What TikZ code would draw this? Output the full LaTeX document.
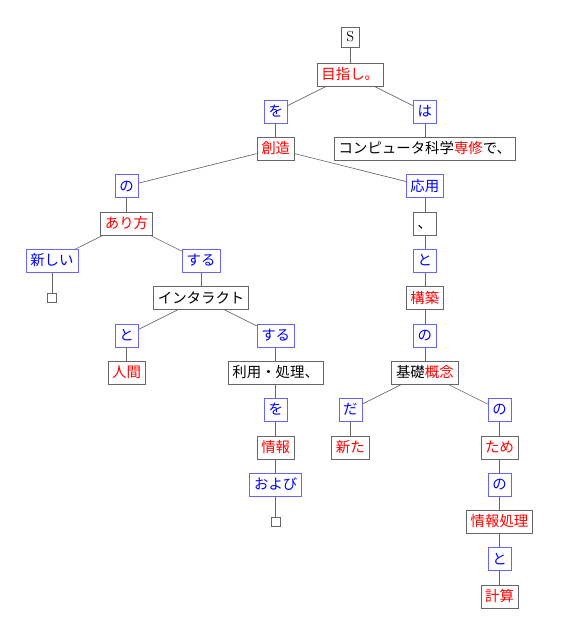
\documentclass[tikz,border=0pt]{standalone}
\usepackage{fontspec}
\newfontfamily\jp{Noto Sans CJK JP}
\tikzset{
  word/.style={draw=black!60,inner xsep=3.3pt,inner ysep=2.5pt,
    text height=10pt,text depth=2.5pt,font=\jp\fontsize{11}{13}\selectfont},
  cont/.style={word,text=red},
  func/.style={word,draw=blue!60,text=blue},
  root/.style={draw=black!60,inner sep=3.8pt,text height=7.5pt,text depth=0pt,
    font=\fontsize{11}{13}\selectfont},
  hole/.style={draw=black!60,minimum size=7pt,inner sep=0pt},
  link/.style={black!60,line width=0.5pt},
}
\begin{document}
\begin{tikzpicture}[x=2cm,y=1cm]
  \useasboundingbox (-0.696,0.992) rectangle (6.948,-15.55);
  \node [root] (s) at (4,0) {S};
  \node [cont] (mezashi) at (4,-1) {目指し。};
  \node [func] (wo1) at (3,-2) {を};
  \node [func] (ha) at (5,-2) {は};
  \node [cont] (souzou) at (3,-3) {創造};
  \node [word] (senshu) at (5,-3) {コンピュータ科学\textcolor{red}{専修}で、};
  \node [func] (no1) at (1,-4) {の};
  \node [func] (ouyou) at (5,-4) {応用};
  \node [cont] (arikata) at (1,-5) {あり方};
  \node [word] (touten) at (5,-5) {、};
  \node [func] (atarashii) at (0,-6) {新しい};
  \node [func] (suru1) at (2,-6) {する};
  \node [func] (to1) at (5,-6) {と};
  \node [hole] (hole1) at (0,-7) {};
  \node [word] (interact) at (2,-7) {インタラクト};
  \node [cont] (kouchiku) at (5,-7) {構築};
  \node [func] (to2) at (1,-8) {と};
  \node [func] (suru2) at (3,-8) {する};
  \node [func] (no2) at (5,-8) {の};
  \node [cont] (ningen) at (1,-9) {人間};
  \node [word] (riyou) at (3,-9) {利用・処理、};
  \node [word] (kiso) at (5,-9) {基礎\textcolor{red}{概念}};
  \node [func] (wo2) at (3,-10) {を};
  \node [func] (da) at (4,-10) {だ};
  \node [func] (no3) at (6,-10) {の};
  \node [cont] (jouhou) at (3,-11) {情報};
  \node [cont] (arata) at (4,-11) {新た};
  \node [cont] (tame) at (6,-11) {ため};
  \node [func] (oyobi) at (3,-12) {および};
  \node [func] (no4) at (6,-12) {の};
  \node [hole] (hole2) at (3,-13) {};
  \node [cont] (shori) at (6,-13) {情報処理};
  \node [func] (to3) at (6,-14) {と};
  \node [cont] (keisan) at (6,-15) {計算};
  % dependency links
  \foreach \a/\b in {s/mezashi,mezashi/wo1,mezashi/ha,wo1/souzou,ha/senshu,
      souzou/no1,souzou/ouyou,no1/arikata,ouyou/touten,arikata/atarashii,
      arikata/suru1,touten/to1,atarashii/hole1,suru1/interact,to1/kouchiku,
      interact/to2,interact/suru2,kouchiku/no2,to2/ningen,suru2/riyou,
      no2/kiso,riyou/wo2,kiso/da,kiso/no3,wo2/jouhou,da/arata,no3/tame,
      jouhou/oyobi,tame/no4,oyobi/hole2,no4/shori,shori/to3,to3/keisan}
    \draw [link] (\a) -- (\b);
\end{tikzpicture}
\end{document}
